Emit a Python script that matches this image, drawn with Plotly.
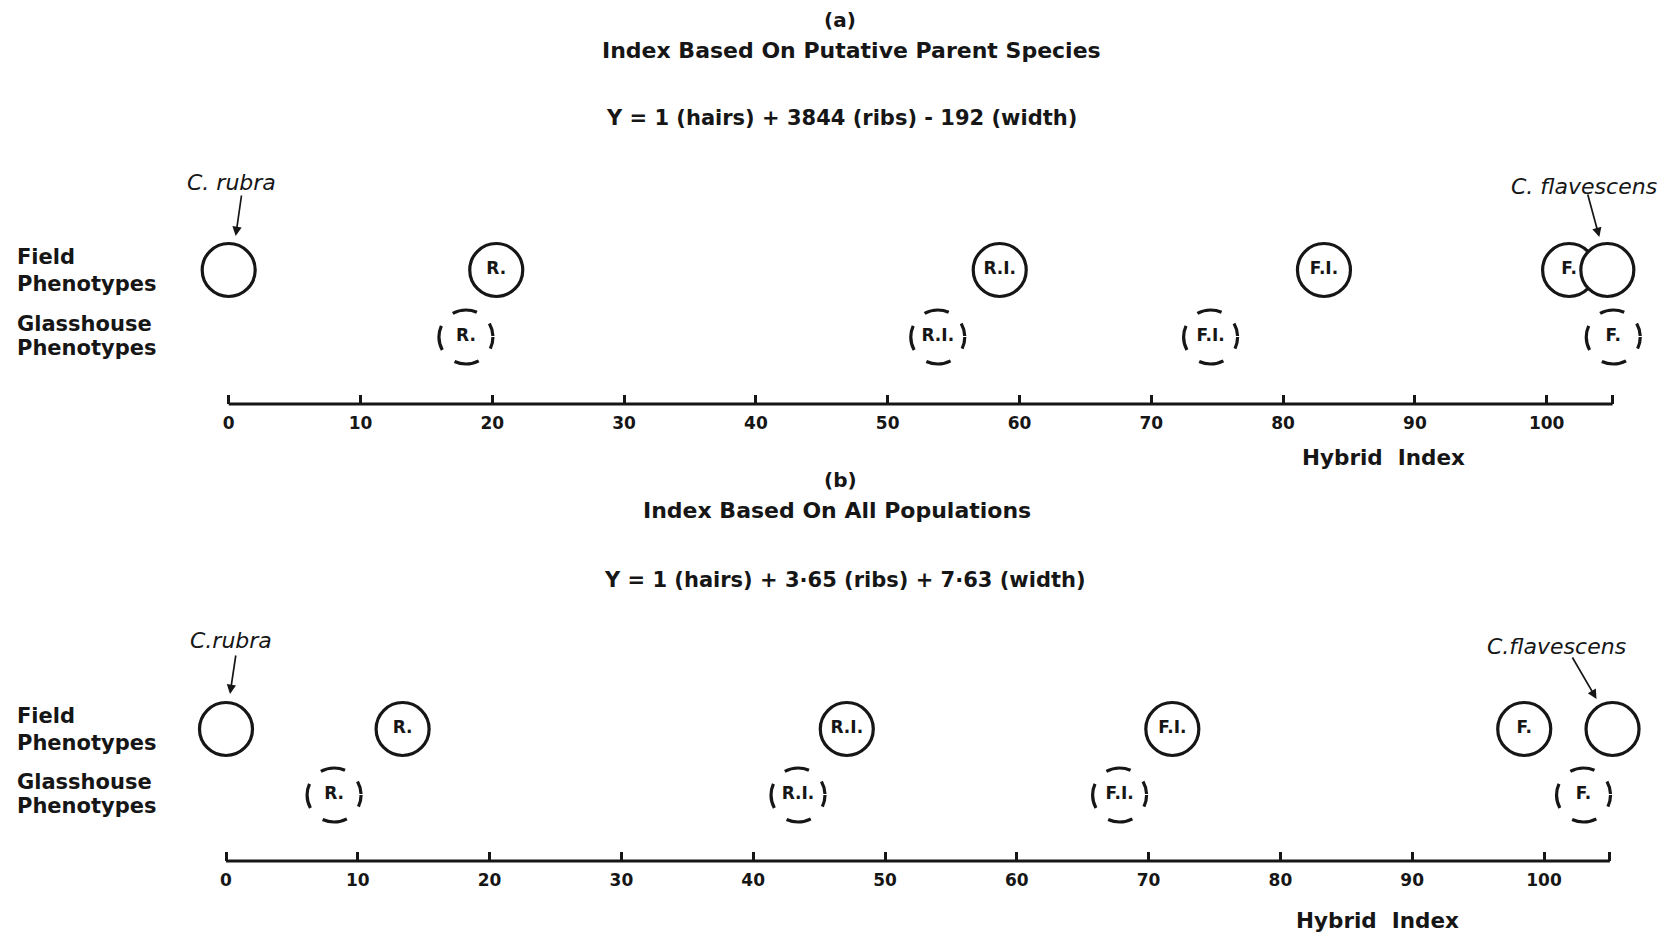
import plotly.graph_objects as go

# ---------------- data ----------------
tick_vals = [0, 10, 20, 30, 40, 50, 60, 70, 80, 90, 100]
axis_extent = [0, 105]

# panel (a): Index based on putative parent species
a_field_x = [0, 20.3, 58.5, 83.1, 101.7, 104.6]
a_field_lab = ["", "R.", "R.I.", "F.I.", "F.", ""]
a_glass_x = [18.0, 53.8, 74.5, 105.05]
a_glass_lab = ["R.", "R.I.", "F.I.", "F."]

# panel (b): Index based on all populations
b_field_x = [0, 13.4, 47.1, 71.8, 98.5, 105.2]
b_field_lab = ["", "R.", "R.I.", "F.I.", "F.", ""]
b_glass_x = [8.2, 43.4, 67.8, 103.0]
b_glass_lab = ["R.", "R.I.", "F.I.", "F."]

FIELD, GLASS = 2, 1
INK = "#161616"
FONT = "DejaVu Sans"

fig = go.Figure()

panels = [
    dict(xa="x", ya="y", fx=a_field_x, fl=a_field_lab, gx=a_glass_x, gl=a_glass_lab),
    dict(xa="x2", ya="y2", fx=b_field_x, fl=b_field_lab, gx=b_glass_x, gl=b_glass_lab),
]

LABFONT = dict(family=FONT, size=17, color=INK, weight="bold")

shapes = []
for p in panels:
    # baseline
    fig.add_trace(go.Scatter(x=axis_extent, y=[0, 0], mode="lines",
                             line=dict(color=INK, width=3),
                             xaxis=p["xa"], yaxis=p["ya"], showlegend=False,
                             hoverinfo="skip"))
    # field phenotypes: solid circles
    fig.add_trace(go.Scatter(x=p["fx"], y=[FIELD] * len(p["fx"]),
                             mode="markers+text", text=p["fl"],
                             textposition="middle center",
                             textfont=LABFONT,
                             marker=dict(symbol="circle", size=53, color="white",
                                         line=dict(color=INK, width=3.2)),
                             cliponaxis=False,
                             xaxis=p["xa"], yaxis=p["ya"], showlegend=False))
    # glasshouse phenotypes: labels (dashed circles as shapes)
    fig.add_trace(go.Scatter(x=p["gx"], y=[GLASS] * len(p["gx"]),
                             mode="text", text=p["gl"],
                             textposition="middle center",
                             textfont=LABFONT,
                             cliponaxis=False,
                             xaxis=p["xa"], yaxis=p["ya"], showlegend=False))
    for gx in p["gx"]:
        shapes.append(dict(type="circle", xref=p["xa"], yref=p["ya"],
                           xsizemode="pixel", ysizemode="pixel",
                           xanchor=gx, yanchor=GLASS,
                           x0=-27, x1=27, y0=-27, y1=27,
                           line=dict(color=INK, width=3.2,
                                     dash="12px,17px,25px,17px,25px,17px,25px,17px,13px")))

ann = []
def txt(text, x, y, size, xref="paper", yref="paper", xanchor="center",
        xshift=0, yshift=0, bold=True):
    ann.append(dict(text=text, x=x, y=y, xref=xref, yref=yref, showarrow=False,
                    xanchor=xanchor, yanchor="middle", xshift=xshift, yshift=yshift,
                    font=dict(family=FONT, size=size, color=INK,
                              weight="bold" if bold else "normal")))

def arrow(x, y, xref, yref, xshift, yshift, ax, ay):
    ann.append(dict(text="", x=x, y=y, xref=xref, yref=yref, showarrow=True,
                    arrowhead=2, arrowsize=1.1, arrowwidth=1.7, arrowcolor=INK,
                    ax=ax, ay=ay, xshift=xshift, yshift=yshift))

# titles panel (a)
txt("(a)", 0.5036, 1 - 20 / 934, 20)
txt("Index Based On Putative Parent Species", 0.5104, 1 - 51 / 934, 22)
txt("Y = 1 (hairs) + 3844 (ribs) - 192 (width)", 0.5042, 1 - 118 / 934, 21)
txt("Hybrid  Index", 1383 / 1668, 1 - 458 / 934, 21.5)
# titles panel (b)
txt("(b)", 0.5036, 1 - 480 / 934, 20)
txt("Index Based On All Populations", 0.5018, 1 - 510 / 934, 22)
txt("Y = 1 (hairs) + 3·65 (ribs) + 7·63 (width)", 0.5066, 1 - 580 / 934, 21)
txt("Hybrid  Index", 1377 / 1668, 1 - 920 / 934, 21.5)

# row labels (one line each)
row_lines = [("Field", FIELD, 13), ("Phenotypes", FIELD, -14),
             ("Glasshouse", GLASS, 13), ("Phenotypes", GLASS, -11)]
for ya in ["y", "y2"]:
    for t, row, sh in row_lines:
        txt(t, 0.009, row, 21, yref=ya, xanchor="left", yshift=sh)

# species annotations
txt("<i>C. rubra</i>", a_field_x[0], FIELD, 22, xref="x", yref="y", xshift=3, yshift=88, bold=False)
arrow(a_field_x[0], FIELD, "x", "y", 7, 34, 6, -42)
txt("<i>C. flavescens</i>", a_field_x[-1], FIELD, 22, xref="x", yref="y", xshift=-23, yshift=84, bold=False)
arrow(a_field_x[-1], FIELD, "x", "y", -8, 33, -12, -44)

txt("<i>C.rubra</i>", b_field_x[0], FIELD, 22, xref="x2", yref="y2", xshift=5, yshift=89, bold=False)
arrow(b_field_x[0], FIELD, "x2", "y2", 4, 35, 6, -40)
txt("<i>C.flavescens</i>", b_field_x[-1], FIELD, 22, xref="x2", yref="y2", xshift=-56, yshift=83, bold=False)
arrow(b_field_x[-1], FIELD, "x2", "y2", -16, 30, -25, -43)

PX = 13.18
axcommon = dict(tickvals=tick_vals + [105], ticktext=[str(v) for v in tick_vals] + [""],
                ticks="inside", ticklen=9, tickwidth=2.6, tickcolor=INK,
                showgrid=False, zeroline=False, showline=False,
                tickfont=dict(family=FONT, size=17, color=INK, weight="bold"),
                ticklabelstandoff=7, anchor="free", side="bottom", fixedrange=True)

fig.update_layout(
    width=1668, height=934, margin=dict(l=0, r=0, t=0, b=0),
    paper_bgcolor="white", plot_bgcolor="white",
    xaxis=dict(domain=[0, 1], range=[-228.7 / PX, (1668 - 228.7) / PX],
               position=1 - 404 / 934, **axcommon),
    yaxis=dict(domain=[0.5, 1], range=[-(467 - 404) / 67, 404 / 67],
               visible=False, fixedrange=True),
    xaxis2=dict(domain=[0, 1], range=[-226 / PX, (1668 - 226) / PX],
                position=1 - 861 / 934, **axcommon),
    yaxis2=dict(domain=[0, 0.5], range=[-(934 - 861) / 66, (861 - 467) / 66],
                visible=False, fixedrange=True),
    shapes=shapes, annotations=ann, showlegend=False,
)

fig.write_html("out.html")
